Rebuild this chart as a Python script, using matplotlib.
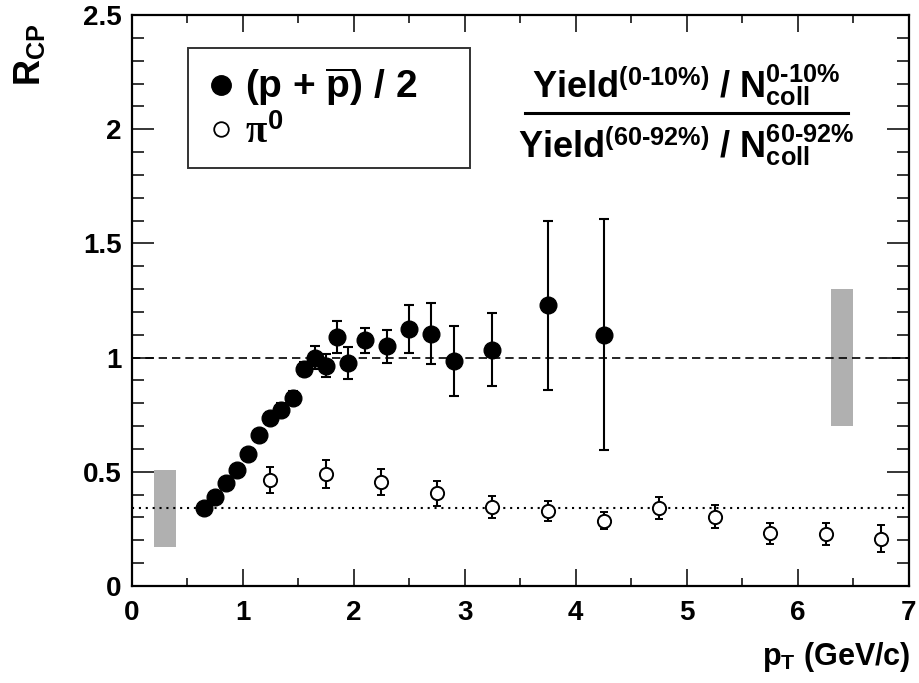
import matplotlib
matplotlib.use("Agg")
import matplotlib.pyplot as plt
from matplotlib.lines import Line2D
from matplotlib.patches import Rectangle

# ── data ────────────────────────────────────────────────────────────────────
pp_x = [0.65, 0.75, 0.85, 0.95, 1.05, 1.15, 1.25, 1.35, 1.45, 1.55, 1.65,
        1.75, 1.85, 1.95, 2.1, 2.3, 2.5, 2.7, 2.9, 3.25, 3.75, 4.25]
pp_y = [0.34, 0.39, 0.45, 0.51, 0.58, 0.66, 0.735, 0.77, 0.825, 0.95, 1.0,
        0.965, 1.09, 0.975, 1.075, 1.05, 1.125, 1.105, 0.985, 1.035, 1.23, 1.10]
pp_err = [0.02, 0.02, 0.02, 0.02, 0.02, 0.025, 0.025, 0.03, 0.03, 0.03, 0.05,
          0.05, 0.07, 0.07, 0.056, 0.073, 0.105, 0.134, 0.153, 0.159, 0.37, 0.505]

pi_x = [1.25, 1.75, 2.25, 2.75, 3.25, 3.75, 4.25, 4.75, 5.25, 5.75, 6.25, 6.75]
pi_y = [0.464, 0.49, 0.454, 0.406, 0.345, 0.328, 0.286, 0.34, 0.304, 0.231, 0.228, 0.207]
pi_err = [0.057, 0.06, 0.057, 0.055, 0.048, 0.043, 0.037, 0.048, 0.05, 0.045, 0.05, 0.06]

# normalisation (N_coll) uncertainty boxes
box_x = [(0.2, 0.4), (6.3, 6.5)]
box_y = [(0.17, 0.51), (0.7, 1.3)]
ref_levels = [1.0, 0.34]

# ── style ───────────────────────────────────────────────────────────────────
plt.rcParams["font.family"] = ["Liberation Sans", "DejaVu Sans"]
plt.rcParams["font.weight"] = "bold"
plt.rcParams["mathtext.fontset"] = "custom"
plt.rcParams["mathtext.rm"] = "Liberation Sans:bold"
plt.rcParams["mathtext.bf"] = "Liberation Sans:bold"
plt.rcParams["mathtext.sf"] = "Liberation Sans:bold"
plt.rcParams["mathtext.it"] = "Liberation Serif"

fig = plt.figure(figsize=(9.2, 6.83), dpi=100)
ax = fig.add_axes([0.143, 0.142, 0.845, 0.836])

for (x0, x1), (y0, y1) in zip(box_x, box_y):
    ax.add_patch(Rectangle((x0, y0), x1 - x0, y1 - y0, color="#b0b0b0",
                           lw=0, zorder=1))

ax.axhline(ref_levels[0], color="k", lw=1.2, ls=(0, (5, 3)), zorder=2)
ax.axhline(ref_levels[1], color="k", lw=1.5, ls=(0, (1, 2.3)), zorder=2)

ax.errorbar(pp_x, pp_y, yerr=pp_err, fmt="o", color="k", ms=12,
            elinewidth=1.5, capsize=3.3, capthick=1.5, zorder=4)
ax.errorbar(pi_x, pi_y, yerr=pi_err, fmt="o", color="k", mfc="white",
            mec="k", mew=1.4, ms=9.5, elinewidth=1.5, capsize=2.9,
            capthick=1.5, zorder=4)

ax.set_xlim(0, 7)
ax.set_ylim(0, 2.5)
ax.set_xticks(range(8))
ax.set_xticks([i + 0.5 for i in range(7)], minor=True)
ax.set_yticks([0, 0.5, 1, 1.5, 2, 2.5])
ax.set_yticklabels(["0", "0.5", "1", "1.5", "2", "2.5"])
ax.set_yticks([i / 10 for i in range(26)], minor=True)
ax.tick_params(which="both", direction="in", top=True, right=True,
               labelsize=20, width=1.1)
ax.tick_params(axis="x", which="major", length=12, pad=10)
ax.tick_params(axis="x", which="minor", length=6)
ax.tick_params(axis="y", which="major", length=16, pad=7)
ax.tick_params(axis="y", which="minor", length=8.5)
for s in ax.spines.values():
    s.set_linewidth(1.6)

# legend
handles = [
    Line2D([], [], marker="o", ls="none", color="k", ms=14),
    Line2D([], [], marker="o", ls="none", mfc="white", mec="k", mew=1.3, ms=10.5),
]
labels = [r"(p + $\overline{\mathrm{p}}$) / 2", r"$\pi^{\mathrm{0}}$"]
leg = ax.legend(handles, labels, loc="upper left",
                bbox_to_anchor=(0.073, 0.942, 0.362, 0.0), mode="expand",
                fontsize=28, frameon=True, fancybox=False, edgecolor="k",
                borderpad=0.45, labelspacing=0.15, handlelength=0.8,
                handletextpad=0.2, borderaxespad=0)
leg.get_frame().set_linewidth(1.4)

# R_CP definition
ax.text(0.714, 0.856, r"$\mathrm{Yield}^{\text{(0-10%)}}$ / $\mathrm{N}^{\text{0-10%}}_{\text{coll}}$",
        transform=ax.transAxes, ha="center", va="baseline", fontsize=26)
ax.plot([0.506, 0.922], [0.828, 0.828], color="k", lw=2.2,
        transform=ax.transAxes, clip_on=False)
ax.text(0.714, 0.751, r"$\mathrm{Yield}^{\text{(60-92%)}}$ / $\mathrm{N}^{\text{60-92%}}_{\text{coll}}$",
        transform=ax.transAxes, ha="center", va="baseline", fontsize=26)

fig.text(910 / 920, 1 - 657 / 683, r"p$_{\mathrm{T}}$ (GeV/c)", ha="right",
         va="center", fontsize=22)
fig.text(31 / 920, 1 - 55 / 683, r"R$_{\mathrm{CP}}$", ha="center",
         va="center", rotation=90, fontsize=26)

fig.savefig("out.png", dpi=100)
